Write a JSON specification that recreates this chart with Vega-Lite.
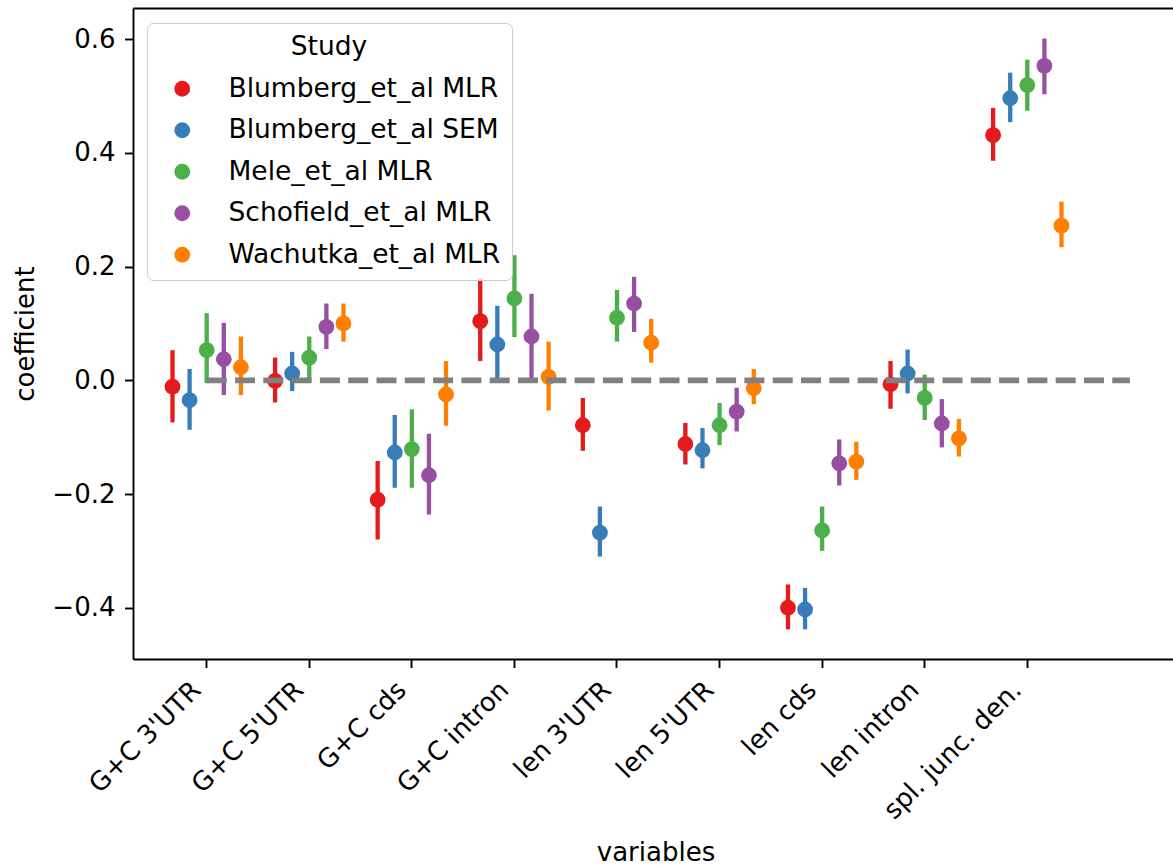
{
  "$schema": "https://vega.github.io/schema/vega-lite/v6.json",
  "autosize": "none",
  "width": 1040,
  "height": 651,
  "padding": {"left": 133, "top": 8, "right": 0, "bottom": 206},
  "background": "white",
  "config": {
    "view": {"stroke": null},
    "font": "DejaVu Sans",
    "axis": {"grid": false, "domainColor": "black", "domainWidth": 1.9, "tickColor": "black", "tickWidth": 1.9, "labelColor": "black", "titleColor": "black", "titleFontWeight": "normal"}
  },
  "datasets": {
    "coefs": [
      {"variable": "G+C 3'UTR", "study": "Blumberg_et_al MLR", "coef": -0.011, "lo": -0.074, "hi": 0.053},
      {"variable": "G+C 3'UTR", "study": "Blumberg_et_al SEM", "coef": -0.035, "lo": -0.087, "hi": 0.020},
      {"variable": "G+C 3'UTR", "study": "Mele_et_al MLR", "coef": 0.053, "lo": -0.005, "hi": 0.118},
      {"variable": "G+C 3'UTR", "study": "Schofield_et_al MLR", "coef": 0.037, "lo": -0.026, "hi": 0.101},
      {"variable": "G+C 3'UTR", "study": "Wachutka_et_al MLR", "coef": 0.023, "lo": -0.026, "hi": 0.077},
      {"variable": "G+C 5'UTR", "study": "Blumberg_et_al MLR", "coef": -0.001, "lo": -0.039, "hi": 0.040},
      {"variable": "G+C 5'UTR", "study": "Blumberg_et_al SEM", "coef": 0.012, "lo": -0.019, "hi": 0.050},
      {"variable": "G+C 5'UTR", "study": "Mele_et_al MLR", "coef": 0.040, "lo": 0.000, "hi": 0.077},
      {"variable": "G+C 5'UTR", "study": "Schofield_et_al MLR", "coef": 0.094, "lo": 0.055, "hi": 0.135},
      {"variable": "G+C 5'UTR", "study": "Wachutka_et_al MLR", "coef": 0.100, "lo": 0.068, "hi": 0.135},
      {"variable": "G+C cds", "study": "Blumberg_et_al MLR", "coef": -0.210, "lo": -0.280, "hi": -0.142},
      {"variable": "G+C cds", "study": "Blumberg_et_al SEM", "coef": -0.127, "lo": -0.189, "hi": -0.061},
      {"variable": "G+C cds", "study": "Mele_et_al MLR", "coef": -0.121, "lo": -0.189, "hi": -0.051},
      {"variable": "G+C cds", "study": "Schofield_et_al MLR", "coef": -0.167, "lo": -0.236, "hi": -0.094},
      {"variable": "G+C cds", "study": "Wachutka_et_al MLR", "coef": -0.025, "lo": -0.080, "hi": 0.034},
      {"variable": "G+C intron", "study": "Blumberg_et_al MLR", "coef": 0.104, "lo": 0.034, "hi": 0.179},
      {"variable": "G+C intron", "study": "Blumberg_et_al SEM", "coef": 0.063, "lo": 0.004, "hi": 0.131},
      {"variable": "G+C intron", "study": "Mele_et_al MLR", "coef": 0.144, "lo": 0.076, "hi": 0.220},
      {"variable": "G+C intron", "study": "Schofield_et_al MLR", "coef": 0.077, "lo": 0.004, "hi": 0.152},
      {"variable": "G+C intron", "study": "Wachutka_et_al MLR", "coef": 0.006, "lo": -0.053, "hi": 0.068},
      {"variable": "len 3'UTR", "study": "Blumberg_et_al MLR", "coef": -0.079, "lo": -0.124, "hi": -0.031},
      {"variable": "len 3'UTR", "study": "Blumberg_et_al SEM", "coef": -0.268, "lo": -0.310, "hi": -0.222},
      {"variable": "len 3'UTR", "study": "Mele_et_al MLR", "coef": 0.110, "lo": 0.068, "hi": 0.159},
      {"variable": "len 3'UTR", "study": "Schofield_et_al MLR", "coef": 0.135, "lo": 0.085, "hi": 0.182},
      {"variable": "len 3'UTR", "study": "Wachutka_et_al MLR", "coef": 0.066, "lo": 0.031, "hi": 0.108},
      {"variable": "len 5'UTR", "study": "Blumberg_et_al MLR", "coef": -0.112, "lo": -0.148, "hi": -0.075},
      {"variable": "len 5'UTR", "study": "Blumberg_et_al SEM", "coef": -0.123, "lo": -0.155, "hi": -0.084},
      {"variable": "len 5'UTR", "study": "Mele_et_al MLR", "coef": -0.079, "lo": -0.114, "hi": -0.040},
      {"variable": "len 5'UTR", "study": "Schofield_et_al MLR", "coef": -0.055, "lo": -0.090, "hi": -0.013},
      {"variable": "len 5'UTR", "study": "Wachutka_et_al MLR", "coef": -0.014, "lo": -0.042, "hi": 0.020},
      {"variable": "len cds", "study": "Blumberg_et_al MLR", "coef": -0.400, "lo": -0.438, "hi": -0.359},
      {"variable": "len cds", "study": "Blumberg_et_al SEM", "coef": -0.403, "lo": -0.438, "hi": -0.365},
      {"variable": "len cds", "study": "Mele_et_al MLR", "coef": -0.264, "lo": -0.300, "hi": -0.222},
      {"variable": "len cds", "study": "Schofield_et_al MLR", "coef": -0.146, "lo": -0.185, "hi": -0.104},
      {"variable": "len cds", "study": "Wachutka_et_al MLR", "coef": -0.143, "lo": -0.175, "hi": -0.108},
      {"variable": "len intron", "study": "Blumberg_et_al MLR", "coef": -0.007, "lo": -0.050, "hi": 0.034},
      {"variable": "len intron", "study": "Blumberg_et_al SEM", "coef": 0.012, "lo": -0.023, "hi": 0.054},
      {"variable": "len intron", "study": "Mele_et_al MLR", "coef": -0.031, "lo": -0.070, "hi": 0.010},
      {"variable": "len intron", "study": "Schofield_et_al MLR", "coef": -0.076, "lo": -0.118, "hi": -0.033},
      {"variable": "len intron", "study": "Wachutka_et_al MLR", "coef": -0.102, "lo": -0.134, "hi": -0.068},
      {"variable": "spl. junc. den.", "study": "Blumberg_et_al MLR", "coef": 0.431, "lo": 0.386, "hi": 0.479},
      {"variable": "spl. junc. den.", "study": "Blumberg_et_al SEM", "coef": 0.496, "lo": 0.454, "hi": 0.541},
      {"variable": "spl. junc. den.", "study": "Mele_et_al MLR", "coef": 0.519, "lo": 0.474, "hi": 0.564},
      {"variable": "spl. junc. den.", "study": "Schofield_et_al MLR", "coef": 0.553, "lo": 0.503, "hi": 0.601},
      {"variable": "spl. junc. den.", "study": "Wachutka_et_al MLR", "coef": 0.272, "lo": 0.234, "hi": 0.314}
    ],
    "zeroLine": [
      {"from": 0, "to": 9, "coef": 0}
    ]
  },
  "layer": [
    {
      "data": {"name": "coefs"},
      "encoding": {
        "x": {
          "field": "variable",
          "type": "nominal",
          "scale": {
            "type": "band",
            "domain": ["G+C 3'UTR", "G+C 5'UTR", "G+C cds", "G+C intron", "len 3'UTR", "len 5'UTR", "len cds", "len intron", "spl. junc. den."],
            "paddingInner": 0,
            "paddingOuter": 0.56944,
            "align": 0.1918,
            "round": false
          },
          "axis": {
            "title": "variables",
            "titleFontSize": 26,
            "titleX": 522.5,
            "titleY": 201,
            "titleBaseline": "alphabetic",
            "titleAnchor": null,
            "bandPosition": 0.5,
            "tickSize": 8.5,
            "labelAngle": -45,
            "labelAlign": "right",
            "labelBaseline": "middle",
            "labelFontSize": 26,
            "labelPadding": 18,
            "labelOffset": -10,
            "labelOverlap": false,
            "labelLimit": 500
          }
        },
        "xOffset": {
          "field": "study",
          "type": "nominal",
          "scale": {
            "type": "point",
            "padding": 2,
            "domain": ["Blumberg_et_al MLR", "Blumberg_et_al SEM", "Mele_et_al MLR", "Schofield_et_al MLR", "Wachutka_et_al MLR"]
          }
        },
        "color": {
          "field": "study",
          "type": "nominal",
          "scale": {
            "domain": ["Blumberg_et_al MLR", "Blumberg_et_al SEM", "Mele_et_al MLR", "Schofield_et_al MLR", "Wachutka_et_al MLR"],
            "range": ["#e41a1c", "#377eb8", "#4daf4a", "#984ea3", "#ff7f00"]
          },
          "legend": {
            "title": "Study",
            "orient": "none",
            "legendX": 14,
            "legendY": 15,
            "titleAnchor": "middle",
            "titleFontSize": 26.5,
            "titleFontWeight": "normal",
            "titleColor": "black",
            "titlePadding": 15,
            "labelFontSize": 26.5,
            "labelColor": "black",
            "labelLimit": 0,
            "labelOffset": 33,
            "symbolType": "circle",
            "symbolSize": 250,
            "symbolOffset": 11,
            "symbolStrokeWidth": 0,
            "symbolOpacity": 1,
            "rowPadding": 14.5,
            "padding": 11,
            "fillColor": "rgba(255,255,255,0.8)",
            "strokeColor": "#cccccc",
            "cornerRadius": 6
          }
        }
      },
      "layer": [
        {
          "mark": {"type": "rule", "strokeWidth": 4.3},
          "encoding": {
            "y": {
              "field": "lo",
              "type": "quantitative",
              "title": "coefficient",
              "scale": {"domain": [-0.4901, 0.6547], "nice": false, "zero": false}
            },
            "y2": {"field": "hi"}
          }
        },
        {
          "mark": {"type": "point", "filled": true, "size": 250, "opacity": 1},
          "encoding": {
            "y": {
              "field": "coef",
              "type": "quantitative",
              "title": "coefficient",
              "scale": {"domain": [-0.4901, 0.6547], "nice": false, "zero": false},
              "axis": {
                "values": [-0.4, -0.2, 0, 0.2, 0.4, 0.6],
                "format": ".1f",
                "titleFontSize": 26,
                "titleX": -100,
                "titleY": 325.5,
                "titleAngle": -90,
                "titleAlign": "center",
                "titleBaseline": "alphabetic",
                "titleAnchor": null,
                "tickSize": 8.5,
                "labelFontSize": 26,
                "labelPadding": 9.5,
                "labelFlush": false
              }
            }
          }
        }
      ]
    },
    {
      "data": {"name": "zeroLine"},
      "mark": {"type": "rule", "color": "#808080", "strokeWidth": 5.7, "strokeDash": [20, 8.3]},
      "encoding": {
        "x": {
          "field": "from",
          "type": "quantitative",
          "scale": {"domain": [-0.7185, 9.4205], "nice": false, "zero": false},
          "axis": {"orient": "top", "labels": false, "ticks": false, "title": null, "domain": true}
        },
        "x2": {"field": "to"},
        "y": {
          "field": "coef",
          "type": "quantitative",
          "scale": {"domain": [-0.4901, 0.6547], "nice": false, "zero": false},
          "axis": {
            "orient": "right",
            "domain": false,
            "domainOpacity": 0,
            "domainWidth": 0,
            "domainColor": "white",
            "ticks": false,
            "tickOpacity": 0,
            "labels": false,
            "labelOpacity": 0,
            "title": null,
            "offset": 40
          }
        }
      }
    }
  ],
  "resolve": {"scale": {"x": "independent"}, "axis": {"x": "independent", "y": "independent"}}
}
